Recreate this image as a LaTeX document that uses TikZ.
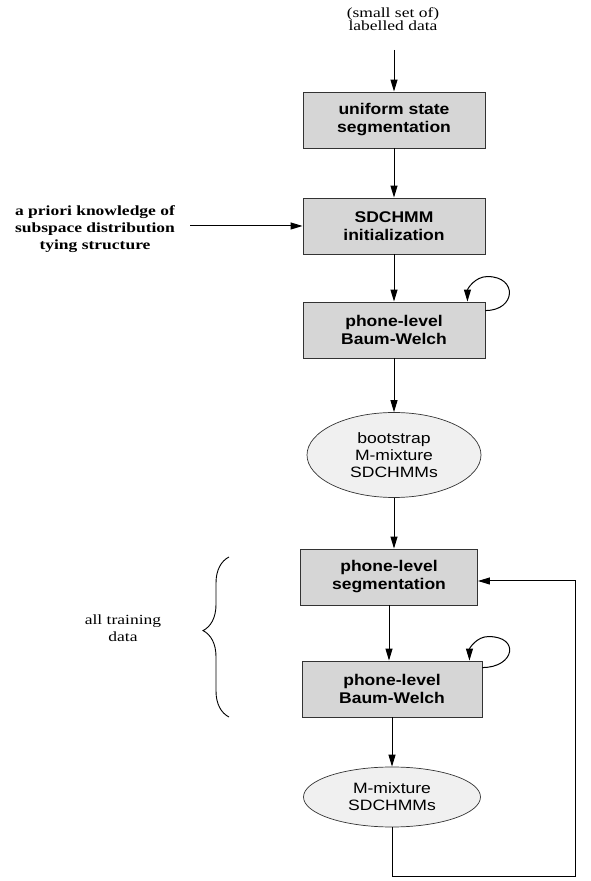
\documentclass[tikz,border=0pt]{standalone}
\usepackage{fontspec}
\setmainfont{Liberation Serif}[FakeStretch=1.25]
\newfontfamily\boxfont{Liberation Sans}[FakeStretch=1.13]
\newfontfamily\ellfont{Liberation Sans}[FakeStretch=1.17]
\usetikzlibrary{arrows.meta,shapes.geometric,decorations.pathreplacing}

\tikzset{
	flow/.style={-{Triangle[length=12pt,width=7pt]},line width=1pt},
	stagebox/.style={draw=black!80,fill=black!16,line width=0.9pt,minimum width=182pt,minimum height=56pt,align=center,font=\boxfont\bfseries\fontsize{15.5}{18}\selectfont},
	modelell/.style={ellipse,draw=black!80,fill=black!6,line width=0.7pt,inner sep=0pt,align=center,font=\ellfont\fontsize{15}{17}\selectfont},
	remark/.style={align=center,font=\fontsize{14}{17}\selectfont}
}

\begin{document}
\begin{tikzpicture}[x=1pt,y=1pt]
	
	\useasboundingbox (0,0) rectangle (590,881);
	
	\node[remark,font=\fontsize{14}{13}\selectfont] (data) at (393,862) {(small set of)\\labelled data};
	\coordinate (src) at (394,831);
	
	\node[stagebox] (usb) at (394,761) {uniform state\\segmentation};
	\node[stagebox] (init) at (394,655) {SDCHMM\\initialization};
	\node[stagebox] (bw1) at (394,551) {phone-level\\Baum-Welch};
	\node[modelell,minimum width=174pt,minimum height=85pt] (boot) at (394,426) {bootstrap\\M-mixture\\SDCHMMs};
	\node[stagebox,minimum width=177pt] (seg) at (389,304) {phone-level\\segmentation};
	\node[stagebox,minimum width=180pt] (bw2) at (392,192) {phone-level\\Baum-Welch};
	\node[modelell,minimum width=177pt,minimum height=60pt] (mix) at (392,84) {M-mixture\\SDCHMMs};
	
	\node[remark,font=\bfseries\fontsize{14}{17}\selectfont] (prior) at (95,652) {a priori knowledge of\\subspace distribution\\tying structure};
	\coordinate (priorend) at (190,655);
	
	\node[remark] (train) at (123,253) {all training\\data};
	\coordinate (bracebot) at (229,164);
	\coordinate (bracetop) at (229,324);
	\coordinate (fbcorner) at (575,4);
	
	\draw[flow] (src) -- (usb);
	\draw[flow] (usb) -- (init);
	\draw[flow] (priorend) -- (init.west);
	\draw[flow] (init) -- (bw1);
	\draw[flow] (bw1) -- (boot);
	\draw[flow] (boot.south) -- (boot.south |- seg.north);
	\draw[flow] (seg.south) -- (seg.south |- bw2.north);
	\draw[flow] (bw2.south) -- (bw2.south |- mix.north);
	\draw[flow] (mix.south) |- (fbcorner) |- ([yshift=-4pt]seg.east);
	
	% self loops
	\draw[flow] ([yshift=-9pt]bw1.north east) to[out=0,in=0,looseness=2.3] ++(2,34) to[out=180,in=90] ([xshift=-18pt]bw1.north east);
	\draw[flow] ([yshift=-7pt]bw2.north east) to[out=0,in=0,looseness=2.6] ++(6,31) to[out=180,in=90] ([xshift=-13pt]bw2.north east);
	
	\draw[line width=0.9pt,decorate,decoration={brace,amplitude=26pt,aspect=0.54}] (bracebot) -- (bracetop);
	
\end{tikzpicture}
\end{document}
